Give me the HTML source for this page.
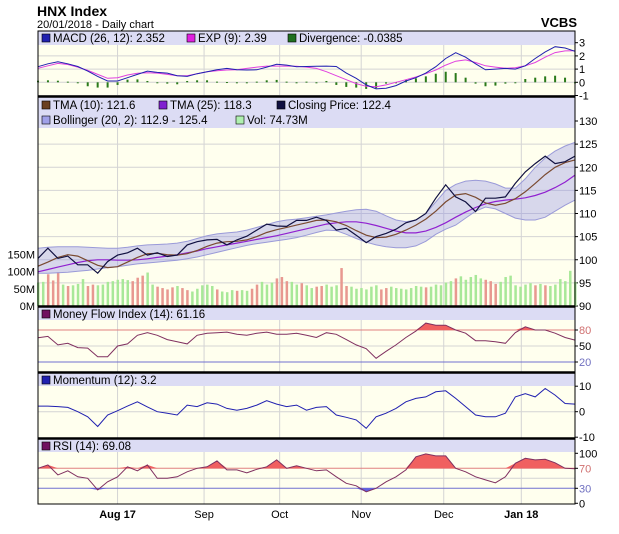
<!DOCTYPE html>
<html><head><meta charset="utf-8">
<style>
body{margin:0;background:#fff;font-family:"Liberation Sans",sans-serif;}
svg{display:block}
text{font-family:"Liberation Sans",sans-serif;}
</style></head>
<body>
<svg id="c" width="619" height="534"></svg>
<script>
const dateLabels=["Aug 17","Sep","Oct","Nov","Dec","Jan 18"];
const dateIdx=[8,16.7,24.3,32.5,40.8,48.6];
const closeP=[100.3,102.5,100.3,100.8,98.9,98.9,97.1,99.6,101,101.5,102.5,101,101.5,100.7,101,103.2,103.9,104.3,104.4,103.2,104.3,105.1,106.4,107.7,107.3,107.2,108.5,108.5,109.2,108.5,106.4,106.8,105.3,103.7,105,105.7,106.6,108,108.6,110,113.3,116.2,113.6,112.5,110.4,113.3,113.3,113.6,116.5,119,120.8,122.4,120.8,121.2,122.4];
const tma10=[98.6,99.5,100.5,101.1,100.8,99.8,98.8,98.3,98.5,99.5,100.5,101.3,101.4,101.1,101,101.3,102,102.9,103.6,103.9,104,104.3,105,105.9,106.5,107,107.5,108,108.5,108.6,108.2,107.4,106.3,105.3,104.8,104.9,105.5,106.4,107.5,108.8,110.5,112.5,114,114.3,113.5,112.3,111.8,112.2,113.2,114.7,116.5,118.4,120,121,121.6];
const tma25=[97.4,97.9,98.4,98.9,99.4,99.8,100,100,99.9,99.9,100,100.2,100.5,100.8,101.1,101.5,101.9,102.4,102.8,103.2,103.6,104,104.4,104.8,105.2,105.7,106.2,106.7,107.2,107.7,108,108.2,108.2,107.9,107.4,106.8,106.2,105.8,105.8,106.2,107,108,109.2,110.3,111.3,112.1,112.6,112.9,113.1,113.4,113.9,114.6,115.6,116.8,118.3];
const bollUp=[102.5,102.7,102.8,102.8,102.8,102.7,102.6,102.5,102.5,102.7,103,103.2,103.3,103.4,103.6,104,104.6,105.2,105.6,105.8,106,106.4,107,107.6,108.2,108.6,108.8,109.1,109.4,109.7,110.1,110.5,110.8,110.9,110.5,109.5,108.6,108.2,108.6,110,112.5,115,116.3,117,117.2,117,116.4,115.5,115.5,117.5,120,122,123.5,124.6,125.4];
const bollLo=[97.1,97.1,97.2,97.3,97.5,97.7,98,98.3,98.5,98.8,99.1,99.3,99.5,99.7,99.9,100.2,100.6,101.1,101.6,102.1,102.6,103.1,103.5,103.8,104.1,104.4,104.8,105.3,105.9,106.4,106.3,105.5,104.6,103.8,103.2,102.8,102.6,102.6,103,104,105.5,106.6,107.5,109,110.5,111.4,111,110,109,108.6,108.6,109.2,110.5,111.8,112.9];
const volM=[68,70,92,74,98,62,58,60,64,78,58,62,60,62,70,72,76,78,75,72,82,88,97,62,56,52,48,54,58,52,46,42,50,60,62,58,48,42,40,46,44,46,44,50,62,70,62,68,80,84,72,70,62,66,60,52,56,58,62,56,60,110,58,56,50,52,48,56,60,48,52,56,52,50,48,52,58,56,54,56,62,60,68,72,80,86,76,84,90,80,76,72,64,70,84,88,60,56,62,66,60,64,60,58,62,78,72,102,70];
const volDir="uuddduduuudduuuuuuuddduuddddudduuuuuduuuduudduuuddduuduudduuudduuuuuudduuuuuuuduuuuuduuuuuddduuuuuuudud";
const macd=[1.18,1.4,1.55,1.4,1.2,0.85,0.45,0.1,0.1,0.35,0.6,0.85,0.75,0.7,0.5,0.45,0.65,0.8,0.95,1.05,0.95,0.93,0.95,1.15,1.36,1.3,1.18,1.2,1.22,1.23,1.2,0.7,0.3,-0.2,-0.5,-0.45,-0.25,0.1,0.35,0.7,1.18,1.8,2.24,1.9,1.4,0.95,1,1.05,1,1.25,1.8,2.3,2.7,2.6,2.35];
const macdExp=[1.06,1.25,1.43,1.35,1.15,0.9,0.6,0.3,0.35,0.55,0.68,0.73,0.7,0.6,0.5,0.5,0.65,0.8,0.88,0.93,0.95,1.05,1.15,1.23,1.23,1.23,1.22,1.15,1.05,0.8,0.5,0.2,-0.1,-0.3,-0.33,-0.2,0,0.2,0.4,0.65,0.93,1.3,1.6,1.7,1.5,1.25,1.15,1.06,1.1,1.25,1.5,1.9,2.25,2.38,2.39];
const diverg=[0.12,0.15,0.12,0.05,-0.05,-0.3,-0.4,-0.4,-0.2,0.2,0.22,0.1,0,-0.1,-0.15,0.1,0.15,0.15,0.05,0.02,0,-0.05,0.05,0.15,0.18,0.05,0,0.05,0,0.1,-0.2,-0.35,-0.4,-0.5,-0.45,-0.1,-0.05,0.2,0.3,0.45,0.65,0.8,0.7,0.35,-0.1,-0.3,-0.25,-0.1,-0.05,0.25,0.35,0.45,0.5,0.35,-0.04];
const mfi=[65.6,68,52,55,47,46,30,30,50,54,70,75,70,62,58,54,70,74,75,76,72,70,74,76,72,72,74,70,66,75,72,62,52,45,27,40,52,66,78,93,89,89,80,74,60,60,58,55,75,86,80,80,74,66,61];
const mom=[2.2,2.2,2,1.7,0,-2,-5.8,-1.3,0.4,2.2,3.9,1.9,0,-0.6,-1.3,2.6,2,3.5,3,1.3,0.6,1.3,2.6,4.3,3,2,2.6,0.6,1.7,2,-1.3,-2.2,-3.2,-6.5,-2,-0.6,1.3,3.9,5.2,5.8,7.8,8.2,5.2,2,-1.3,-2,-2,-0.6,5.8,7.1,5.8,9.1,6.5,3.2,3];
const rsi=[70,76.7,56.7,65,53,50,26.7,43,53,73,65,76.7,50,50,53,63,70,73,84.7,66.7,66.7,61,68,73,86.7,70,75,70,65,66.7,53,40,35,23,30,43,53,66.7,93,98.7,94.7,94.7,70,63,53,46.7,41,53,80,90,86.7,88,81,70,69];
const macdTicks=[3,2,1,0,-1],priceTicks=[130,125,120,115,110,105,100,95,90],volTicks=[150,100,50,0];
const mfiTicks=[80,50,20],momTicks=[10,0,-10],rsiTicks=[100,70,30,0];

const X0=38,X1=575,N=closeP.length;
const xs=i=>X0+(X1-X0)*i/(N-1);
const yMacd=v=>82.3-v*13.2, yP=v=>306-(v-90)*4.625, yV=v=>306-v*0.345;
const yMfi=v=>346-(v-50)*0.533, yMom=v=>411.7-v*2.55, yRsi=v=>503.3-v*0.5;
const svg=document.getElementById('c');const NS='http://www.w3.org/2000/svg';
function el(t,a,p){const e=document.createElementNS(NS,t);for(const k in a)e.setAttribute(k,a[k]);(p||svg).appendChild(e);return e;}
function txt(s,x,y,a){const e=el('text',Object.assign({x:x,y:y,'font-size':11,fill:'#000'},a||{}));e.textContent=s;return e;}
function pts(arr,fy){return arr.map((v,i)=>xs(i).toFixed(1)+','+fy(v).toFixed(1)).join(' ');}
function line(arr,fy,col,w,name){const e=el('polyline',{points:pts(arr,fy),fill:'none',stroke:col,'stroke-width':w||1});return e;}

let t=txt('HNX Index',37,16,{'font-size':14,'font-weight':'bold'});
t=txt('20/01/2018 - Daily chart',37,28,{'font-size':11});
t=txt('VCBS',577,27,{'font-size':13,'font-weight':'bold','text-anchor':'end'});

const panels=[[31,45,96,'macd'],[97,128,306,'price'],[307,320,372,'mfi'],[373,386,438,'momentum'],[439,452,504,'rsi']];
panels.forEach(p=>{
 let r=el('rect',{x:X0,y:p[0],width:X1-X0,height:p[2]-p[0],fill:'#ffffee'});
 r=el('rect',{x:X0,y:p[0],width:X1-X0,height:p[1]-p[0],fill:'#dcdcf4'});
});
dateIdx.forEach((d,i)=>{const x=X0+(X1-X0)*d/(N-1);
 panels.forEach(p=>{const g=el('line',{x1:x,x2:x,y1:p[1],y2:p[2],stroke:'#d4d4d4'});});
 const l=txt(dateLabels[i],x,518,{'text-anchor':'middle','font-weight':(i==0||i==5)?'bold':'normal'});});
function hgrid(y,col){const g=el('line',{x1:X0,x2:X1,y1:y,y2:y,stroke:col||'#d4d4d4'});}
function rtick(s,y,col){const l=txt(s,579,y+4,{fill:col||'#000'});el('line',{x1:X1,x2:X1+3,y1:y,y2:y,stroke:'#000'});}

macdTicks.forEach(v=>{if(yMacd(v)>45)hgrid(yMacd(v));rtick(String(v),yMacd(v));});
diverg.forEach((v,i)=>{const b=el('rect',{x:xs(i)-1,y:Math.min(yMacd(0),yMacd(v)),width:2,height:Math.max(1,Math.abs(yMacd(v)-yMacd(0))),fill:'#2a7a1a'});});
line(macdExp,yMacd,'#e040e0',1,'exp-line');line(macd,yMacd,'#2020b0',1,'macd-line');

priceTicks.forEach(v=>{if(yP(v)>128&&yP(v)<306)hgrid(yP(v));rtick(String(v),yP(v));});
volTicks.forEach(v=>{const l=txt(v+'M',35,yV(v)+4,{'text-anchor':'end'});});
volM.forEach((v,i)=>{const x=X0+(X1-X0)*i/(volM.length-1);const b=el('rect',{x:x-1,y:yV(v),width:2.5,height:306-yV(v),fill:volDir[i]=='d'?'#e89890':'#a8e898'});});
let band=el('polygon',{points:pts(bollUp,yP)+' '+bollLo.map((v,i)=>xs(i).toFixed(1)+','+yP(v).toFixed(1)).reverse().join(' '),fill:'rgba(140,140,230,0.35)',stroke:'#9a9ad8','stroke-width':1});

line(tma25,yP,'#9020d0',1.2,'tma25-line');line(tma10,yP,'#7a4a30',1.2,'tma10-line');line(closeP,yP,'#101040',1.2,'closing-price-line');

function clipFill(arr,fy,thr,above,col,name){const y0=fy(thr);
 let d='M'+xs(0)+','+y0;arr.forEach((v,i)=>{const vv=above?Math.max(v,thr):Math.min(v,thr);d+=' L'+xs(i).toFixed(1)+','+fy(vv).toFixed(1);});d+=' L'+xs(arr.length-1)+','+y0+' Z';
 const e=el('path',{d:d,fill:col});}
hgrid(yMfi(80),'#e08080');hgrid(yMfi(50));hgrid(yMfi(20),'#7070d0');
rtick('80',yMfi(80),'#d07070');rtick('50',yMfi(50));rtick('20',yMfi(20),'#7070c0');
clipFill(mfi,yMfi,80,true,'#f06060','mfi-overbought-fill');line(mfi,yMfi,'#803060',1,'mfi-line');
hgrid(yMom(0));momTicks.forEach(v=>rtick(String(v),yMom(v)));line(mom,yMom,'#2020b0',1,'momentum-line');
hgrid(yRsi(70),'#e08080');hgrid(yRsi(30),'#7070d0');hgrid(yRsi(50));
rsiTicks.forEach(v=>rtick(String(v),yRsi(v),v==70?'#d07070':v==30?'#7070c0':'#000'));
clipFill(rsi,yRsi,70,true,'#f06060','rsi-overbought-fill');clipFill(rsi,yRsi,30,false,'#6060e0','rsi-oversold-fill');
line(rsi,yRsi,'#803060',1,'rsi-line');

function leg(s,x,y,col,name){const r=el('rect',{x:x,y:y-8,width:8,height:8,fill:col,stroke:'#000','stroke-width':0.6});const l=txt(s,x+11,y,{'font-size':11.5});}
leg('MACD (26, 12): 2.352',42,42,'#2020b0','legend-macd');leg('EXP (9): 2.39',187,42,'#e020e0','legend-exp');leg('Divergence: -0.0385',288,42,'#207020','legend-divergence');
leg('TMA (10): 121.6',42,109,'#6a4020','legend-tma10');leg('TMA (25): 118.3',159,109,'#8020d0','legend-tma25');leg('Closing Price: 122.4',277,109,'#101040','legend-close');
leg('Bollinger (20, 2): 112.9 - 125.4',42,124,'#a0a0e8','legend-bollinger');leg('Vol: 74.73M',236,124,'#b0f0b0','legend-volume');
leg('Money Flow Index (14): 61.16',42,318,'#701060','legend-mfi');leg('Momentum (12): 3.2',42,384,'#2020b0','legend-momentum');leg('RSI (14): 69.08',42,450,'#701060','legend-rsi');

el('rect',{x:X0,y:31,width:X1-X0,height:473,fill:'none',stroke:'#000','stroke-width':1});
[96.5,306.5,372.5,438.5].forEach(y=>{const s=el('line',{x1:X0,x2:X1,y1:y,y2:y,stroke:'#000','stroke-width':2.5});});
</script>
</body></html>
